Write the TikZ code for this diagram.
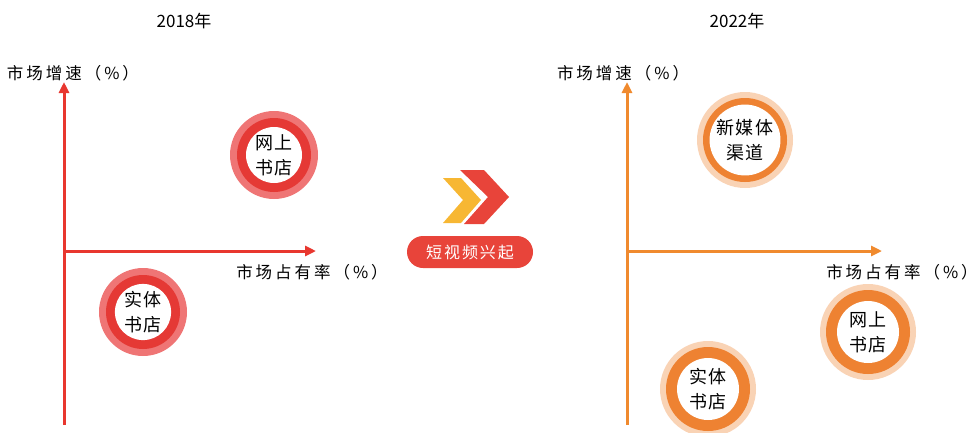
\documentclass[tikz,border=0pt]{standalone}
\usepackage{fontspec}
\setmainfont{Noto Sans CJK SC}
\usetikzlibrary{arrows.meta}
\definecolor{axred}{HTML}{E8372F}
\definecolor{ringred}{HTML}{E53935}
\definecolor{ringredlt}{HTML}{EF7575}
\definecolor{axor}{HTML}{F08A2E}
\definecolor{ringor}{HTML}{EE8232}
\definecolor{ringorlt}{HTML}{F9D3B5}
\definecolor{chevy}{HTML}{F7B733}
\definecolor{pillred}{HTML}{E8443A}
\tikzset{
  axis/.style={line width=3pt,-{Triangle[width=10pt,length=11pt]}},
  lbl/.style={font=\fontsize{16.5}{18}\selectfont\addfontfeature{LetterSpace=18}},
  ttl/.style={font=\fontsize{17}{19}\selectfont},
  bub/.style={circle,fill=white,minimum size=56pt,inner sep=0pt,align=center,font=\fontsize{18}{25}\selectfont\addfontfeature{LetterSpace=10}},
}
\begin{document}
\begin{tikzpicture}[x=1pt,y=-1pt]
\useasboundingbox (0,0) rectangle (976,432);
% left chart
\node[ttl] (t1) at (184,21) {2018年};
\coordinate (lo1) at (64,425);
\coordinate (lt1) at (64,82);
\coordinate (lh0) at (64,251);
\coordinate (lh1) at (316,251);
\draw[axis,axred] (lo1) -- (lt1);
\draw[axis,axred] (lh0) -- (lh1);
\node[lbl] (ly1) at (73,73) {市场增速（\%）};
\node[lbl] (lx1) at (312,272) {市场占有率（\%）};
\fill[ringredlt] (274,155) circle (44);
\fill[ringred] (274,155) circle (37);
\node[bub] (wl) at (274,155) {网上\\书店};
\fill[ringredlt] (143,312) circle (44);
\fill[ringred] (143,312) circle (37);
\node[bub] (sl) at (143,312) {实体\\书店};
% middle
\fill[chevy] (443,178) -- (461,178) -- (481,200) -- (461,223) -- (443,223) -- (463,200) -- cycle;
\fill[pillred] (460,170) -- (484,170) -- (509,197) -- (484,224) -- (464,224) -- (488,197) -- cycle;
\node[fill=pillred,rounded corners=16pt,minimum width=126pt,minimum height=32pt,text=white,font=\fontsize{16}{18}\selectfont\addfontfeature{LetterSpace=12}] (pill) at (470,252) {短视频兴起};
% right chart
\node[ttl] (t2) at (737,21) {2022年};
\coordinate (ro1) at (627,425);
\coordinate (rt1) at (627,82);
\coordinate (rh0) at (627,251);
\coordinate (rh1) at (882,251);
\draw[axis,axor] (ro1) -- (rt1);
\draw[axis,axor] (rh0) -- (rh1);
\node[lbl] (ry1) at (623,73) {市场增速（\%）};
\node[lbl] (rx1) at (902,272) {市场占有率（\%）};
\fill[ringorlt] (745,140) circle (48);
\fill[ringor] (745,140) circle (42);
\node[bub,minimum size=62pt] (xm) at (745,140) {新媒体\\渠道};
\fill[ringorlt] (868,332) circle (48);
\fill[ringor] (868,332) circle (42);
\node[bub,minimum size=62pt] (wr) at (868,332) {网上\\书店};
\fill[ringorlt] (708,389) circle (48);
\fill[ringor] (708,389) circle (42);
\node[bub,minimum size=62pt] (sr) at (708,389) {实体\\书店};
\end{tikzpicture}
\end{document}
